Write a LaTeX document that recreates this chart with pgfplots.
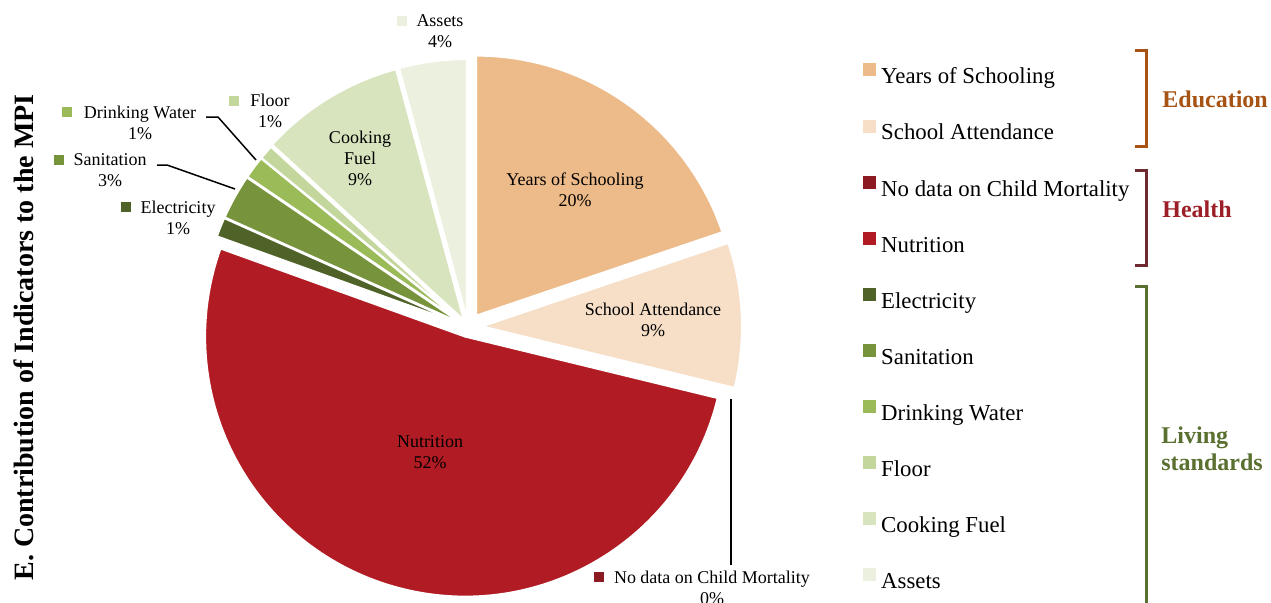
\documentclass[border=0pt]{standalone}
\usepackage{pgfplots}
\pgfplotsset{compat=1.18}
\usepackage{pgfplotstable}
\usepackage{fontspec}
\setmainfont{Liberation Serif}
\usetikzlibrary{calc}

\definecolor{yos}{HTML}{EDBB8A}
\definecolor{sat}{HTML}{F6DEC7}
\definecolor{nodata}{HTML}{8C1A22}
\definecolor{nut}{HTML}{B11C24}
\definecolor{elec}{HTML}{4F6228}
\definecolor{san}{HTML}{77933C}
\definecolor{dw}{HTML}{9BBB59}
\definecolor{flr}{HTML}{C3D69B}
\definecolor{cook}{HTML}{D7E4BD}
\definecolor{ast}{HTML}{EBF1DE}
\definecolor{edu}{HTML}{A65314}
\definecolor{hlthb}{HTML}{6E2A2E}
\definecolor{hlth}{HTML}{9C1F27}
\definecolor{liv}{HTML}{5A7030}

% indicator, contribution (%), explosion (px)
\pgfplotstableread{
idx value explode
0 19.8 14
1 9.0 14
2 0.0 10
3 51.7 10
4 1.2 7
5 2.8 7
6 1.4 7
7 0.9 7
8 9.0 8
9 4.2 8
}\pietable

\def\cum{90}
\pgfplotsforeachungrouped \i in {0,...,9}{%
  \pgfplotstablegetelem{\i}{value}\of\pietable
  \pgfmathsetmacro\endang{\cum-3.6*\pgfplotsretval}%
  \expandafter\xdef\csname sa\i\endcsname{\cum}%
  \expandafter\xdef\csname ea\i\endcsname{\endang}%
  \pgfplotstablegetelem{\i}{explode}\of\pietable
  \expandafter\xdef\csname ex\i\endcsname{\pgfplotsretval}%
  \xdef\cum{\endang}%
}

\newcommand\slice[2]{%
  \fill[#2,draw=white,line width=1pt,line join=round]
   ($(axis cs:468,327)+({(\csname sa#1\endcsname+\csname ea#1\endcsname)/2}:{\csname ex#1\endcsname*0.5pt})$)
   -- ++({\csname sa#1\endcsname}:130pt)
   arc[start angle=\csname sa#1\endcsname, end angle=\csname ea#1\endcsname, radius=130pt] -- cycle;
}
\newcommand\pief{\fontsize{9}{10.5}\selectfont}
\pgfplotsset{sq/.style={legend image code/.code={\fill[#1] (0pt,1pt) rectangle (6pt,7pt);}}}

\begin{document}
\begin{tikzpicture}
\useasboundingbox (0,0) rectangle (635.5pt,-301.5pt);
\begin{axis}[
  at={(0,0)}, anchor=north west,
  x=0.5pt, y=0.5pt, y dir=reverse,
  xmin=0, xmax=1271, ymin=0, ymax=603,
  hide axis, clip=false,
  legend cell align=left,
  legend style={at={(axis cs:863,63)}, anchor=north west, draw=none, fill=none,
    inner sep=0pt, row sep=15.35pt,
    font=\fontsize{11.4}{13}\selectfont,
    nodes={inner xsep=2.5pt, inner ysep=0pt, text height=8.5pt, text depth=2.5pt}},
]
\addlegendimage{sq=yos}\addlegendentry{Years of Schooling}
\addlegendimage{sq=sat}\addlegendentry{School Attendance}
\addlegendimage{sq=nodata}\addlegendentry{No data on Child Mortality}
\addlegendimage{sq=nut}\addlegendentry{Nutrition}
\addlegendimage{sq=elec}\addlegendentry{Electricity}
\addlegendimage{sq=san}\addlegendentry{Sanitation}
\addlegendimage{sq=dw}\addlegendentry{Drinking Water}
\addlegendimage{sq=flr}\addlegendentry{Floor}
\addlegendimage{sq=cook}\addlegendentry{Cooking Fuel}
\addlegendimage{sq=ast}\addlegendentry{Assets}

\slice{0}{yos}
\slice{1}{sat}
\slice{3}{nut}
\slice{4}{elec}
\slice{5}{san}
\slice{6}{dw}
\slice{7}{flr}
\slice{8}{cook}
\slice{9}{ast}

% inside labels
\node[font=\pief, align=center] at (axis cs:575,190) {Years of Schooling\\20\%};
\node[font=\pief, align=center] at (axis cs:653,320) {School Attendance\\9\%};
\node[font=\pief, align=center] at (axis cs:430,452) {Nutrition\\52\%};
\node[font=\pief, align=center] at (axis cs:360,158) {Cooking\\Fuel\\9\%};
% outside labels
\fill[ast] (axis cs:397,16) rectangle (axis cs:407,26);
\node[font=\pief, align=center] at (axis cs:440,31.5) {Assets\\4\%};
\fill[flr] (axis cs:229,96) rectangle (axis cs:239,106);
\node[font=\pief, align=center] at (axis cs:270,111) {Floor\\1\%};
\fill[dw] (axis cs:62,107) rectangle (axis cs:72,117);
\node[font=\pief, align=center] at (axis cs:140,123) {Drinking Water\\1\%};
\fill[san] (axis cs:54,155) rectangle (axis cs:64,165);
\node[font=\pief, align=center] at (axis cs:110,170.5) {Sanitation\\3\%};
\fill[elec] (axis cs:121,202) rectangle (axis cs:131,212);
\node[font=\pief, align=center] at (axis cs:178,217.5) {Electricity\\1\%};
\fill[nodata] (axis cs:594,572) rectangle (axis cs:604,582);
\node[font=\pief, align=center] at (axis cs:712,587.5) {No data on Child Mortality\\0\%};
% leader lines
\draw[line width=0.75pt] (axis cs:206,117) -- (axis cs:218,117) -- (axis cs:256,160);
\draw[line width=0.75pt] (axis cs:157,165) -- (axis cs:167,165) -- (axis cs:235,189);
\draw[line width=0.75pt] (axis cs:731,399) -- (axis cs:731,565);
% title
\node[font=\fontsize{14}{16}\selectfont\bfseries, rotate=90, anchor=base] at (axis cs:34,337.5) {E. Contribution of Indicators to the MPI};
% brackets
\draw[edu, line width=1.5pt, line join=miter] (axis cs:1135,50) -- (axis cs:1146,50) -- (axis cs:1146,146) -- (axis cs:1135,146);
\draw[hlthb, line width=1.5pt, line join=miter] (axis cs:1135,170) -- (axis cs:1146,170) -- (axis cs:1146,265) -- (axis cs:1135,265);
\draw[liv, line width=1.5pt, line join=miter] (axis cs:1135,286) -- (axis cs:1146,286) -- (axis cs:1146,615);
\node[font=\fontsize{12}{13.5}\selectfont\bfseries, text=edu, anchor=base west, inner sep=0pt] at (axis cs:1162,107) {Education};
\node[font=\fontsize{12}{13.5}\selectfont\bfseries, text=hlth, anchor=base west, inner sep=0pt] at (axis cs:1162,217) {Health};
\node[font=\fontsize{12}{13.5}\selectfont\bfseries, text=liv, anchor=west, align=left, inner sep=0pt] at (axis cs:1161,449) {Living\\standards};
\end{axis}
\end{tikzpicture}
\end{document}
